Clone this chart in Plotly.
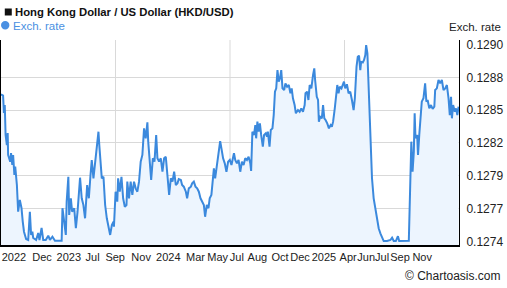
import plotly.graph_objects as go
import numpy as np

# ---------------- data ----------------
day_offset = [
    0, 5, 7, 9, 11, 14, 16, 17, 22, 24,
    27, 29, 32, 34, 38, 41, 45, 49, 52, 55,
    60, 65, 69, 72, 75, 77, 84, 89, 92, 97,
    101, 107, 113, 117, 123, 129, 137, 145, 147, 151,
    155, 157, 161, 163, 167, 170, 175, 179, 183, 189,
    193, 197, 201, 206, 210, 214, 217, 221, 225, 229,
    233, 235, 238, 241, 245, 249, 253, 257, 261, 265,
    269, 270, 274, 278, 280, 284, 288, 292, 296, 300,
    302, 306, 310, 314, 318, 322, 326, 330, 334, 338,
    342, 346, 350, 352, 356, 359, 363, 367, 371, 374,
    378, 382, 386, 390, 394, 398, 402, 406, 410, 414,
    418, 422, 425, 430, 433, 437, 442, 445, 449, 454,
    457, 461, 465, 469, 473, 477, 481, 485, 488, 492,
    496, 499, 503, 507, 509, 512, 516, 519, 524, 527,
    531, 535, 539, 543, 547, 551, 555, 557, 560, 564,
    568, 572, 576, 580, 584, 588, 592, 596, 598, 601,
    605, 608, 610, 613, 616, 619, 622, 626, 629, 633,
    636, 638, 642, 645, 649, 652, 655, 658, 661, 664,
    667, 670, 673, 677, 680, 684, 688, 692, 695, 698,
    702, 705, 710, 714, 718, 722, 726, 728, 732, 735,
    738, 742, 746, 749, 751, 755, 758, 760, 763, 767,
    770, 773, 776, 780, 784, 788, 791, 794, 798, 802,
    804, 807, 810, 814, 817, 820, 823, 827, 831, 835,
    839, 843, 846, 848, 850, 853, 856, 859, 861, 865,
    868, 871, 873, 876, 879, 883, 887, 891, 895, 899,
    903, 907, 911, 915, 923, 931, 935, 939, 944, 949,
    952, 963, 975, 977, 979, 981, 984, 987, 989, 991,
    995, 997, 1000, 1003, 1006, 1010, 1014, 1017, 1020, 1024,
    1028, 1032, 1036, 1038, 1042, 1046, 1050, 1054, 1058, 1062,
    1066, 1070, 1073, 1076, 1078, 1081, 1085, 1088, 1091, 1094,
]

rate = [
    0.128616, 0.128605, 0.128460, 0.128527, 0.128277, 0.128193, 0.128293, 0.128110, 0.128054, 0.128126,
    0.128026, 0.128110, 0.127943, 0.128012, 0.127859, 0.127636, 0.127734, 0.127667, 0.127553, 0.127469,
    0.127408, 0.127400, 0.127636, 0.127442, 0.127469, 0.127417, 0.127400, 0.127458, 0.127400, 0.127500,
    0.127400, 0.127400, 0.127436, 0.127400, 0.127427, 0.127394, 0.127394, 0.127394, 0.127665, 0.127553,
    0.127442, 0.127720, 0.127928, 0.127609, 0.127748, 0.127636, 0.127665, 0.127498, 0.127636, 0.127920,
    0.127748, 0.127692, 0.127581, 0.127859, 0.127748, 0.127943, 0.128068, 0.127915, 0.128054, 0.128179,
    0.128304, 0.128193, 0.128026, 0.127915, 0.127928, 0.127692, 0.127581, 0.127511, 0.127442, 0.127525,
    0.127553, 0.127511, 0.127803, 0.127720, 0.127915, 0.127803, 0.127928, 0.127748, 0.127678, 0.127692,
    0.127887, 0.127748, 0.127887, 0.127776, 0.127887, 0.127831, 0.127803, 0.127887, 0.128054, 0.128110,
    0.128332, 0.128249, 0.128383, 0.128221, 0.127998, 0.127901, 0.128082, 0.128054, 0.128277, 0.128082,
    0.128054, 0.128082, 0.127970, 0.128082, 0.128095, 0.127943, 0.127776, 0.127915, 0.127887, 0.127970,
    0.127859, 0.127873, 0.127909, 0.127901, 0.127859, 0.127845, 0.127803, 0.127748, 0.127831, 0.127845,
    0.127873, 0.127887, 0.127845, 0.127831, 0.127803, 0.127748, 0.127720, 0.127692, 0.127594, 0.127692,
    0.127665, 0.127748, 0.127776, 0.127943, 0.127998, 0.127915, 0.128026, 0.128082, 0.128226, 0.128165,
    0.128082, 0.128040, 0.127970, 0.128054, 0.128068, 0.128026, 0.128082, 0.128124, 0.128068, 0.128040,
    0.128068, 0.127970, 0.128054, 0.128026, 0.128082, 0.128068, 0.128095, 0.128040, 0.127976, 0.128304,
    0.128277, 0.128360, 0.128249, 0.128388, 0.128304, 0.128374, 0.128277, 0.128179, 0.128277, 0.128291,
    0.128262, 0.128304, 0.128179, 0.128318, 0.128332, 0.128443, 0.128638, 0.128666, 0.128819, 0.128722,
    0.128750, 0.128819, 0.128666, 0.128652, 0.128708, 0.128680, 0.128694, 0.128625, 0.128666, 0.128583,
    0.128527, 0.128458, 0.128485, 0.128471, 0.128499, 0.128471, 0.128527, 0.128625, 0.128638, 0.128569,
    0.128694, 0.128666, 0.128777, 0.128833, 0.128736, 0.128596, 0.128569, 0.128388, 0.128429, 0.128416,
    0.128527, 0.128416, 0.128402, 0.128374, 0.128332, 0.128360, 0.128346, 0.128388, 0.128499, 0.128638,
    0.128694, 0.128625, 0.128680, 0.128666, 0.128694, 0.128722, 0.128666, 0.128700, 0.128625, 0.128638,
    0.128569, 0.128485, 0.128583, 0.128722, 0.128847, 0.128930, 0.128939, 0.128819, 0.128888, 0.128883,
    0.128903, 0.128944, 0.129028, 0.128959, 0.128694, 0.128277, 0.127915, 0.127748, 0.127665, 0.127594,
    0.127498, 0.127456, 0.127414, 0.127391, 0.127391, 0.127400, 0.127419, 0.127391, 0.127391, 0.127431,
    0.127391, 0.127391, 0.127394, 0.127665, 0.127943, 0.128221, 0.127970, 0.128137, 0.128458, 0.128249,
    0.128277, 0.128110, 0.128277, 0.128388, 0.128555, 0.128583, 0.128708, 0.128555, 0.128569, 0.128499,
    0.128527, 0.128494, 0.128513, 0.128652, 0.128666, 0.128736, 0.128708, 0.128736, 0.128652, 0.128666,
    0.128694, 0.128583, 0.128443, 0.128596, 0.128416, 0.128527, 0.128471, 0.128499, 0.128443, 0.128513,
]
assert len(day_offset) == len(rate)

x_tick_days = [31, 98, 162, 219, 273, 335, 400, 465, 518, 564, 613, 667, 715, 772, 830, 873, 911, 954, 1007]
x_tick_labels = ["2022", "Dec", "2023", "Jul", "Sep", "Nov", "2024", "Mar", "May", "Jul",
                 "Aug", "Oct", "Dec", "2025", "Apr", "Jun", "Jul", "Sep", "Nov"]

y_tick_labels = ["0.1274", "0.1277", "0.1279", "0.1282", "0.1285", "0.1288", "0.1290"]
y_low, y_high = 1 / 7.85, 1 / 7.75          # HKD peg band limits
y_tick_vals = list(np.linspace(y_low, y_high, len(y_tick_labels)))

title_text = "Hong Kong Dollar / US Dollar (HKD/USD)"
series_name = "Exch. rate"
credit_text = "© Chartoasis.com"

# ---------------- styling ----------------
FONT = "Liberation Sans, Arial, sans-serif"
LINE_COLOR = "#3b89dd"
FILL_COLOR = "#edf5fe"
GRID_COLOR = "#d9d9d9"
TEXT_COLOR = "#222222"
LEGEND_BLUE = "#4a90e2"

X_RANGE = [0, 1095]
Y_RANGE = [0.127358, 0.129070]

fig = go.Figure()
fig.add_trace(go.Scatter(
    x=day_offset, y=rate, mode="lines", name=series_name,
    line=dict(color=LINE_COLOR, width=2),
    fill="tozeroy", fillcolor=FILL_COLOR,
    hoverinfo="skip", showlegend=False,
))

# invisible helper trace on overlay axis to carry the inner horizontal gridlines
fig.add_trace(go.Scatter(x=[None], y=[None], xaxis="x", yaxis="y2", showlegend=False, hoverinfo="skip"))

fig.update_layout(
    width=507, height=288,
    margin=dict(l=1, r=48, t=40, b=43),
    paper_bgcolor="white", plot_bgcolor="white",
    font=dict(family=FONT, size=12, color=TEXT_COLOR),
    showlegend=False,
    xaxis=dict(
        range=X_RANGE, fixedrange=True,
        tickvals=x_tick_days, ticktext=x_tick_labels, tickangle=0,
        showgrid=False, zeroline=False,
        showline=True, linecolor="black", linewidth=2,
        ticks="", ticklabelstandoff=1,
        tickfont=dict(family=FONT, size=11, color=TEXT_COLOR),
    ),
    yaxis=dict(
        range=Y_RANGE, side="right", fixedrange=True,
        tickvals=y_tick_vals, ticktext=y_tick_labels,
        showgrid=False, zeroline=False,
        showline=True, mirror=True, linecolor="black", linewidth=1,
        ticks="", ticklabelstandoff=4,
        tickfont=dict(family=FONT, size=12, color=TEXT_COLOR),
    ),
    yaxis2=dict(
        range=Y_RANGE, overlaying="y", side="right", fixedrange=True,
        tickvals=y_tick_vals[1:-1], showticklabels=False,
        showgrid=True, gridcolor=GRID_COLOR, gridwidth=1,
        zeroline=False, showline=False, ticks="",
    ),
)

# vertical gridlines at quarters of the time span
for q in (0.25, 0.5, 0.75):
    fig.add_shape(type="line", xref="x domain", yref="y domain",
                  x0=q, x1=q, y0=0, y1=1, layer="below",
                  line=dict(color=GRID_COLOR, width=1))

# title marker (black square) and legend marker (blue circle)
fig.add_shape(type="rect", xref="paper", yref="paper",
              xsizemode="pixel", ysizemode="pixel",
              xanchor=0.0159, yanchor=1.1366, x0=-3.5, x1=3.5, y0=-3.5, y1=3.5,
              fillcolor="#111111", line=dict(width=0))
fig.add_shape(type="circle", xref="paper", yref="paper",
              xsizemode="pixel", ysizemode="pixel",
              xanchor=0.0092, yanchor=1.0722, x0=-4.2, x1=4.2, y0=-4.2, y1=4.2,
              fillcolor=LEGEND_BLUE, line=dict(width=0))

fig.add_annotation(text="<b>" + title_text + "</b>", xref="paper", yref="paper",
                   x=0.026, y=1.138, xanchor="left", yanchor="middle", showarrow=False,
                   font=dict(family=FONT, size=11.3, color="#111111"))
fig.add_annotation(text=series_name, xref="paper", yref="paper",
                   x=0.022, y=1.0698, xanchor="left", yanchor="middle", showarrow=False,
                   font=dict(family=FONT, size=11.5, color=LEGEND_BLUE))
fig.add_annotation(text=series_name, xref="paper", yref="paper",
                   x=1.0961, y=1.0634, xanchor="right", yanchor="middle", showarrow=False,
                   font=dict(family=FONT, size=11.5, color=TEXT_COLOR))
fig.add_annotation(text=credit_text, xref="paper", yref="paper",
                   x=1.0961, y=-0.151, xanchor="right", yanchor="middle", showarrow=False,
                   font=dict(family=FONT, size=12, color=TEXT_COLOR))

fig.write_html("out.html", config=dict(displayModeBar=False, staticPlot=True))
